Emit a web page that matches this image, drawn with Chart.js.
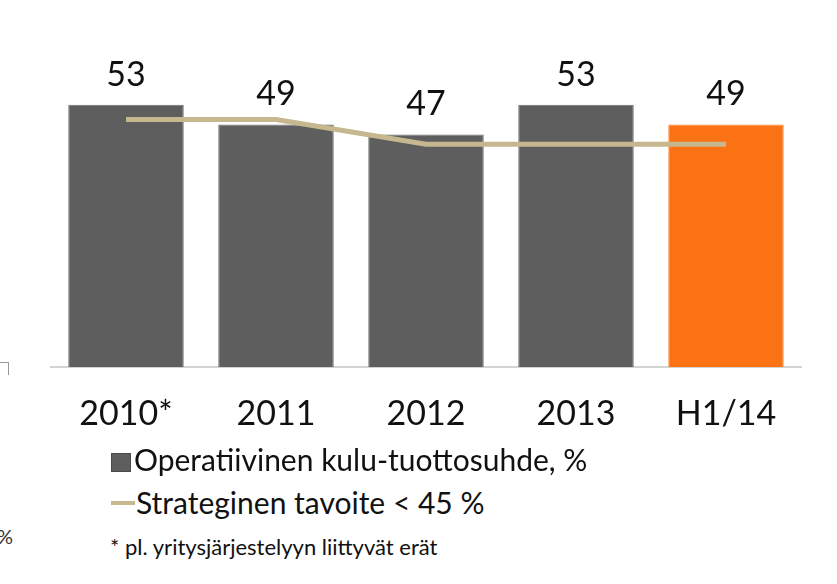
<!DOCTYPE html>
<html>
<head>
<meta charset="utf-8">
<script src="https://cdn.jsdelivr.net/npm/chart.js@4.4.1/dist/chart.umd.min.js"></script>
<style>
  html, body { margin: 0; padding: 0; background: #fff; }
  body { width: 837px; height: 584px; position: relative; overflow: hidden; font-family: Lato, "Open Sans", sans-serif; color: #111; }
  #wrap { position: absolute; left: 0; top: 0; width: 837px; height: 452px; }
  .legend { position: absolute; left: 111px; font-size: 30px; line-height: 36px; white-space: nowrap; }
  .legend .box { display: inline-block; width: 20px; height: 19px; background: #5e5e5e; border: 1px solid #4a4a4a; box-sizing: border-box; vertical-align: -1px; margin-right: 3px; }
  .legend .dash { display: inline-block; width: 24px; height: 4px; background: #c6b78e; vertical-align: 9px; margin-right: 1px; }
  .note { position: absolute; left: 110px; top: 533px; font-size: 22px; white-space: nowrap; }
  .cut { position: absolute; left: -3px; top: 524px; font-size: 20px; color: #333; }
  .corner { position: absolute; left: -2px; top: 362px; width: 10px; height: 12px; border-top: 1px solid #999; border-right: 1px solid #999; }
</style>
</head>
<body>
<div id="wrap"><canvas id="chart"></canvas></div>
<div class="legend" style="top:441px"><span class="box"></span>Operatiivinen kulu-tuottosuhde, %</div>
<div class="legend" style="top:484px"><span class="dash"></span>Strateginen tavoite &lt; 45 %</div>
<div class="note">* pl. yritysjärjestelyyn liittyvät erät</div>
<div class="cut">%</div>
<div class="corner"></div>
<script>
// data
const categories = ['2010*', '2011', '2012', '2013', 'H1/14'];
const costIncome = [53, 49, 47, 53, 49];
const target = [50, 50, 45, 45, 45];
const barColors = ['#5e5e5e', '#5e5e5e', '#5e5e5e', '#5e5e5e', '#fb7215'];

// values above the bars
const barLabels = {
    id: 'barLabels',
    afterDatasetsDraw(chart) {
        const ctx = chart.ctx;
        const meta = chart.getDatasetMeta(1);
        ctx.save();
        ctx.font = '34px Lato, sans-serif';
        ctx.fillStyle = '#111';
        ctx.textAlign = 'center';
        ctx.textBaseline = 'middle';
        meta.data.forEach(function(bar, i) {
            ctx.fillText(costIncome[i], bar.x, bar.y - 30);
        });
        ctx.restore();
    }
};

new Chart(document.getElementById('chart'), {
    data: {
        labels: categories,
        datasets: [
            {
                type: 'line',
                label: 'Strateginen tavoite < 45 %',
                data: target,
                borderColor: '#c6b78e',
                borderWidth: 5,
                pointRadius: 0,
                tension: 0,
                order: 0
            },
            {
                type: 'bar',
                label: 'Operatiivinen kulu-tuottosuhde, %',
                data: costIncome,
                backgroundColor: barColors,
                borderColor: ['#6e6e6e', '#6e6e6e', '#6e6e6e', '#6e6e6e', '#ff8a3a'],
                borderWidth: 1,
                barPercentage: 0.77,
                categoryPercentage: 1,
                order: 1
            }
        ]
    },
    options: {
        responsive: true,
        maintainAspectRatio: false,
        animation: false,
        layout: { padding: { left: 51, right: 36, top: 70, bottom: 0 } },
        plugins: {
            legend: { display: false },
            tooltip: { enabled: false }
        },
        scales: {
            x: {
                grid: { display: false },
                border: { display: true, color: '#d4d4d4', width: 2 },
                ticks: { color: '#111', font: { family: 'Lato', size: 34 }, padding: 18 }
            },
            y: {
                display: false,
                min: 0,
                max: 60
            }
        }
    },
    plugins: [barLabels]
});
</script>
</body>
</html>
